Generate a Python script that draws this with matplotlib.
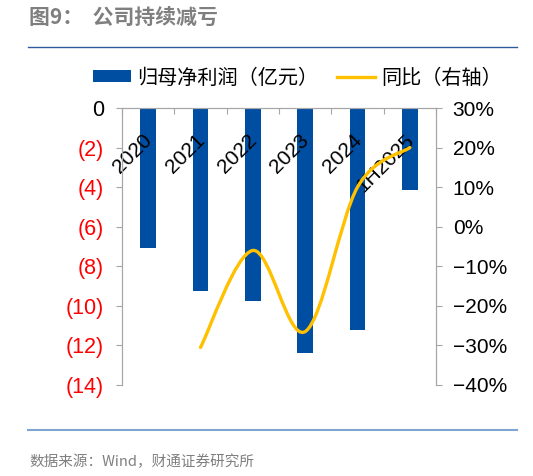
import numpy as np
import matplotlib
matplotlib.use("Agg")
import matplotlib.pyplot as plt
from matplotlib.path import Path
from matplotlib.patches import PathPatch, Patch
from matplotlib.lines import Line2D

plt.rcParams['font.family'] = ['Liberation Sans', 'Noto Sans CJK SC', 'DejaVu Sans']

# data
categories = ["2020", "2021", "2022", "2023", "2024", "1H2025"]
profit = [-7.07, -9.23, -9.77, -12.36, -11.24, -4.13]          # 亿元
yoy_cats = [1, 2, 3, 4, 5]                                      # index into categories
yoy = [-30.5, -6.0, -26.5, 10.0, 20.0]                           # %
left_ticks = [0, -2, -4, -6, -8, -10, -12, -14]
right_ticks = [30, 20, 10, 0, -10, -20, -30, -40]

BLUE = "#004EA2"
GOLD = "#FFC000"
GRAY = "#A6A6A6"
CJK = ['Noto Sans CJK SC', 'DejaVu Sans']


def smooth_path(xs, ys):
    # excel-like smoothed line as cubic bezier segments
    pts = list(zip(xs, ys))
    verts = [pts[0]]
    codes = [Path.MOVETO]
    n = len(pts)
    for i in range(n - 1):
        p0 = pts[max(i - 1, 0)]
        p1 = pts[i]
        p2 = pts[i + 1]
        p3 = pts[min(i + 2, n - 1)]
        c1 = (p1[0] + (p2[0] - p0[0]) / 6, p1[1] + (p2[1] - p0[1]) / 6)
        c2 = (p2[0] - (p3[0] - p1[0]) / 6, p2[1] - (p3[1] - p1[1]) / 6)
        verts += [c1, c2, p2]
        codes += [Path.CURVE4] * 3
    return Path(verts, codes)


fig = plt.figure(figsize=(5.33, 4.76), dpi=100)
ax = fig.add_axes([122 / 533, 1 - 385 / 476, 314 / 533, 277 / 476])
ax2 = ax.twinx()

x = np.arange(len(categories))
ax.bar(x, profit, width=0.3, color=BLUE, zorder=2)
ax.set_xlim(-0.5, len(categories) - 0.5)
ax.set_ylim(-14, 0)
ax.set_yticks(left_ticks)
ax.set_yticklabels(["0" if v == 0 else f"({-v})" for v in left_ticks], fontsize=15.5)
for lab, v in zip(ax.get_yticklabels(), left_ticks):
    lab.set_color("black" if v == 0 else "red")

ax.xaxis.set_ticks_position('top')
ax.set_xticks(np.arange(-0.5, len(categories), 1))
ax.set_xticklabels([])
ax.tick_params(axis='x', direction='in', length=4, color=GRAY)
ax.tick_params(axis='y', direction='out', length=4, color=GRAY, pad=9)

for i, c in enumerate(categories):
    ax.text(i + 0.02, -1.5, c, rotation=45, rotation_mode='anchor',
            ha='right', va='center', fontsize=15, zorder=4)

ax2.set_ylim(-40, 30)
ax2.set_yticks(right_ticks)
ax2.set_yticklabels([f"{v}%".replace("-", "\u2212") for v in right_ticks], fontsize=15)
ax2.tick_params(axis='y', direction='out', length=4, color=GRAY, pad=8)

yx = [x[i] for i in yoy_cats]
ax2.add_patch(PathPatch(smooth_path(yx, yoy), facecolor='none', edgecolor=GOLD,
                        lw=2.4, capstyle='round', zorder=3))

for a in (ax, ax2):
    a.spines['bottom'].set_visible(False)
    for s in ('top', 'left', 'right'):
        a.spines[s].set_color(GRAY)
    a.patch.set_visible(False)

handles = [Patch(facecolor=BLUE), Line2D([], [], color=GOLD, lw=2.4)]
fig.legend(handles, ["归母净利润（亿元）", "同比（右轴）"], loc='center',
           bbox_to_anchor=(0.558, 1 - 78 / 476), ncol=2, frameon=False,
           prop={'family': CJK, 'size': 14.5}, handlelength=1.9, handleheight=0.55,
           columnspacing=0.9, handletextpad=0.3)

fig.text(29 / 533, 1 - 17 / 476, "图9：  公司持续减亏", family=CJK, fontsize=15,
         fontweight='bold', color="#7F7F7F", va='center')
fig.text(29 / 533, 1 - 462 / 476, "数据来源：Wind，财通证券研究所", family=CJK,
         fontsize=10.5, color="#7F7F7F", va='center')
fig.add_artist(Line2D([28 / 533, 517 / 533], [1 - 47 / 476] * 2, color="#2E5C9A", lw=1.0))
fig.add_artist(Line2D([28 / 533, 517 / 533], [1 - 430 / 476] * 2, color="#7EA6D0", lw=1.5))

fig.savefig("out.png", dpi=100)
